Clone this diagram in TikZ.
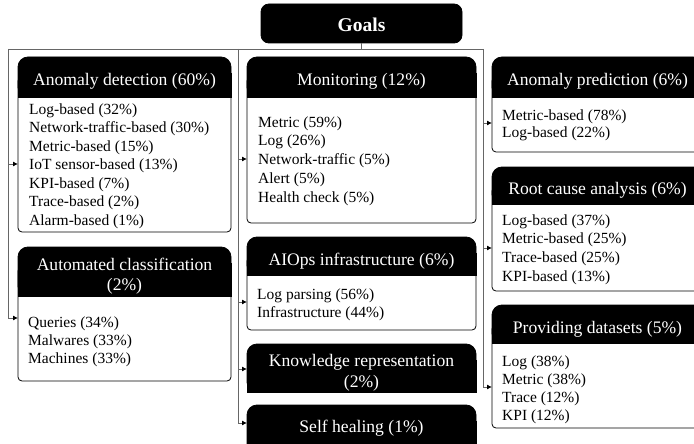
\documentclass[tikz,border=0pt]{standalone}
\usepackage{fontspec}
\setmainfont{Liberation Serif}
\usetikzlibrary{arrows.meta,calc}
\tikzset{
 conn/.style={draw=black!60, line width=0.9pt},
 arr/.style={conn, -{Latex[length=5pt,width=5pt,color=black]}},
 bodybox/.style={draw=black, fill=white, line width=0.8pt, rounded corners=4pt, inner sep=0pt, outer sep=0pt, anchor=north west},
 headbox/.style={fill=black, draw=black, line width=0.8pt, rounded corners=10pt, inner sep=0pt, outer sep=0pt, anchor=north west},
 htext/.style={text=white, font=\fontsize{17.6}{20.5}\selectfont, anchor=base, inner sep=0pt, align=center},
 htwo/.style={text=white, font=\fontsize{17.6}{#1}\selectfont, anchor=center, inner sep=0pt, align=center},
 ltext/.style={font=\fontsize{15.5}{#1}\selectfont, align=left, anchor=west, inner sep=0pt},
}
% name, x1, x2, ytop, yhb, ybot
\newcommand\gbox[6]{%
 \pgfmathsetmacro\gw{#3-#2}%
 \pgfmathsetmacro\gbh{#6-#4-20}%
 \pgfmathsetmacro\ghh{#5-#4}%
 \node[bodybox, minimum width=\gw pt, minimum height=\gbh pt] (#1) at (#2,#4+20) {};
 \node[headbox, minimum width=\gw pt, minimum height=\ghh pt] (#1-h) at (#2,#4) {};
 \fill[draw=black, line width=0.8pt] (#2,#4+16) rectangle (#3,#5);
}
% name, x1, x2, ytop, ybot (black only)
\newcommand\bbox[5]{%
 \pgfmathsetmacro\gw{#3-#2}%
 \pgfmathsetmacro\ghh{#5-#4}%
 \node[headbox, minimum width=\gw pt, minimum height=\ghh pt] (#1) at (#2,#4) {};
 \fill[draw=black, line width=0.8pt] (#2,#4+16) rectangle (#3,#5);
}
\begin{document}
\begin{tikzpicture}[x=1pt,y=-1pt]
\useasboundingbox (0,0) rectangle (694,444);
\clip (0,0) rectangle (694,444);
\fill[white] (0,0) rectangle (694,444);

% Goals
\node[headbox, rounded corners=8pt, minimum width=201pt, minimum height=39pt] (goals) at (261,4) {};
\node[htext, font=\bfseries\fontsize{19.5}{22}\selectfont] (goals-t) at ([yshift=-8pt]goals.center) {Goals};

% left column
\gbox{ad}{18}{231}{57}{97}{232}
\node[htext] (ad-t) at ([yshift=-9pt]ad-h.center) {Anomaly detection (60\%)};
\node[ltext=18.5] (ad-l) at (29,166) {Log-based (32\%)\\Network-traffic-based (30\%)\\Metric-based (15\%)\\IoT sensor-based (13\%)\\KPI-based (7\%)\\Trace-based (2\%)\\Alarm-based (1\%)};

\gbox{ac}{18}{231}{247}{296}{381}
\node[htwo=20] (ac-t) at (124.5,276) {Automated classification\\(2\%)};
\node[ltext=18] (ac-l) at (28,341.5) {Queries (34\%)\\Malwares (33\%)\\Machines (33\%)};

% middle column
\gbox{mon}{247}{476}{57}{97}{223}
\node[htext] (mon-t) at ([yshift=-9pt]mon-h.center) {Monitoring (12\%)};
\node[ltext=18.75] (mon-l) at (258,161) {Metric (59\%)\\Log (26\%)\\Network-traffic (5\%)\\Alert (5\%)\\Health check (5\%)};

\gbox{aio}{247}{476}{237}{275}{330}
\node[htext] (aio-t) at ([yshift=-9pt]aio-h.center) {AIOps infrastructure (6\%)};
\node[ltext=18] (aio-l) at (257,304.5) {Log parsing (56\%)\\Infrastructure (44\%)};

\bbox{kr}{247}{476}{344}{392}
\node[htwo=21] (kr-t) at (361.5,372.5) {Knowledge representation\\(2\%)};

\bbox{sh}{247}{476}{405}{460}
\node[htext] (sh-t) at (361.5,432) {Self healing (1\%)};

% right column
\gbox{ap}{492}{703}{57}{97}{152}
\node[htext] (ap-t) at ([yshift=-9pt]ap-h.center) {Anomaly prediction (6\%)};
\node[ltext=17] (ap-l) at (502,125) {Metric-based (78\%)\\Log-based (22\%)};

\gbox{rc}{492}{703}{167}{204}{291}
\node[htext] (rc-t) at ([yshift=-9pt]rc-h.center) {Root cause analysis (6\%)};
\node[ltext=18.7] (rc-l) at (502,249.5) {Log-based (37\%)\\Metric-based (25\%)\\Trace-based (25\%)\\KPI-based (13\%)};

\gbox{pd}{492}{703}{305}{343}{428}
\node[htext] (pd-t) at ([yshift=-9pt]pd-h.center) {Providing datasets (5\%)};
\node[ltext=18] (pd-l) at (502,389.5) {Log (38\%)\\Metric (38\%)\\Trace (12\%)\\KPI (12\%)};

% connectors
\coordinate (hubL) at (8,49);
\coordinate (hubM) at (238,49);
\coordinate (hubR) at (483,49);
\coordinate (aL1) at (8,164);
\coordinate (aL2) at (8,318);
\coordinate (aM1) at (238,159);
\coordinate (aM2) at (238,302);
\coordinate (aM3) at (238,369);
\coordinate (aM4) at (238,423);
\coordinate (aR1) at (483,123);
\coordinate (aR2) at (483,248);
\coordinate (aR3) at (483,387);

\draw[conn] (goals.south) -- (goals.south |- hubL);
\draw[conn] (hubL) -- (hubR);
\draw[conn] (hubL) -- (aL2);
\draw[conn] (hubM) -- (aM4);
\draw[conn] (hubR) -- (aR3);
\draw[arr] (aL1) -- (aL1 -| ad.west);
\draw[arr] (aL2) -- (aL2 -| ac.west);
\draw[arr] (aM1) -- (aM1 -| mon.west);
\draw[arr] (aM2) -- (aM2 -| aio.west);
\draw[arr] (aM3) -- (aM3 -| kr.west);
\draw[arr] (aM4) -- (aM4 -| sh.west);
\draw[arr] (aR1) -- (aR1 -| ap.west);
\draw[arr] (aR2) -- (aR2 -| rc.west);
\draw[arr] (aR3) -- (aR3 -| pd.west);
\end{tikzpicture}
\end{document}
